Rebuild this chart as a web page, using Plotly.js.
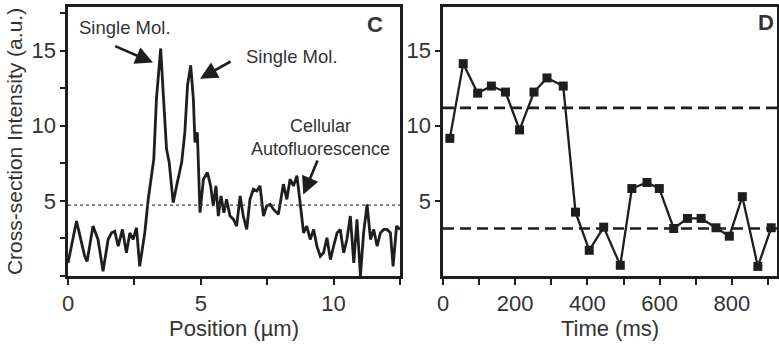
<!DOCTYPE html>
<html>
<head>
<meta charset="utf-8">
<script src="https://cdn.plot.ly/plotly-3.0.1.min.js"></script>
<style>html,body{margin:0;padding:0;background:#fff;}#chart{width:779px;height:346px;}</style>
</head>
<body>
<div id="chart"></div>
<script>
// Panel C: cross-section profile
const positionUm = [0.00,0.32,0.63,0.72,0.94,1.13,1.32,1.51,1.64,1.76,1.89,2.05,2.20,2.33,2.45,2.58,2.70,2.89,3.02,3.14,3.23,3.33,3.49,3.59,3.71,3.81,3.96,4.09,4.28,4.40,4.50,4.62,4.72,4.78,4.87,4.97,5.10,5.25,5.37,5.47,5.57,5.66,5.76,5.87,5.97,6.10,6.23,6.35,6.48,6.60,6.73,6.85,6.98,7.11,7.23,7.36,7.48,7.61,7.74,7.92,8.11,8.24,8.36,8.49,8.62,8.74,8.87,8.99,9.12,9.25,9.37,9.50,9.62,9.75,9.88,10.00,10.13,10.25,10.38,10.50,10.63,10.76,10.88,11.01,11.13,11.26,11.39,11.51,11.64,11.76,11.89,12.01,12.14,12.24,12.37,12.50];
const intensityC = [0.87,3.65,1.31,0.98,3.32,2.43,0.31,2.43,2.87,2.98,1.98,3.10,1.54,2.87,2.43,3.21,0.64,2.87,5.10,6.67,7.78,11.79,15.14,12.01,8.45,7.56,4.88,6.00,7.56,9.56,12.68,14.02,11.79,8.89,9.56,4.21,6.44,6.89,6.00,4.66,6.00,3.99,5.33,4.21,5.10,3.99,3.77,3.32,5.33,3.99,3.10,5.10,5.77,5.66,6.00,3.99,4.66,4.77,4.43,4.10,6.11,5.10,6.44,6.00,6.67,4.88,2.87,3.32,2.43,3.10,1.98,1.31,1.54,2.54,1.09,1.98,2.87,3.10,1.54,2.43,3.99,0.87,3.77,0.00,2.87,4.77,2.43,3.10,1.98,2.87,3.10,3.10,2.87,0.64,3.32,3.10];
const thresholdC = 4.72;

// Panel D: time trace
const timeMs = [19,56,96,134,173,212,252,288,333,367,405,445,491,523,565,599,639,677,715,756,793,829,872,909];
const intensityD = [9.16,14.13,12.17,12.64,12.24,9.72,12.24,13.18,12.64,4.25,1.71,3.25,0.71,5.82,6.22,5.82,3.16,3.83,3.83,3.21,2.65,5.28,0.64,3.21];
const levelsD = [11.19, 3.16];

const cTicks = [0,2.5,5,7.5,10,12.5];
const cTickText = ['0','','5','','10',''];
const cYTicks = [0,2.5,5,7.5,10,12.5,15,17.5];
const cYTickText = ['','','5','','10','','15',''];
const dTicks = [0,100,200,300,400,500,600,700,800,900];
const dTickText = ['0','','200','','400','','600','','800',''];
const dYTicks = [5,10,15];
const dYTickText = ['5','10','15'];

const ink = '#1e1e1e';
const fontFam = 'Liberation Sans, Arial, Helvetica, sans-serif';

const traces = [
  {x: positionUm, y: intensityC, type:'scatter', mode:'lines', xaxis:'x', yaxis:'y',
   line:{color:ink, width:2.8}, hoverinfo:'skip'},
  {x: timeMs, y: intensityD, type:'scatter', mode:'lines+markers', xaxis:'x2', yaxis:'y2',
   line:{color:ink, width:2.3}, marker:{symbol:'square', size:9, color:ink}, hoverinfo:'skip'}
];

const axCommon = {showgrid:false, zeroline:false, showline:true, linecolor:ink, linewidth:2.7,
  mirror:true, ticks:'outside', tickcolor:ink, tickwidth:2, tickfont:{size:22, color:'#333', family:fontFam}};

const shapes = [
  {type:'line', xref:'x domain', x0:0, x1:1, yref:'y', y0:thresholdC, y1:thresholdC,
   line:{color:'#444', width:1.3, dash:'3px,3px'}},
  ...levelsD.map(v => ({type:'line', xref:'x2 domain', x0:0, x1:1, yref:'y2', y0:v, y1:v,
   line:{color:ink, width:2.6, dash:'11px,6px'}}))
];

const txt = (s, sz) => ({size:sz, color:'#333', family:fontFam});
const annotations = [
  {xref:'x', yref:'y', x:2.14, y:16.54, text:'Single Mol.', showarrow:false, font:txt('',18.5)},
  {xref:'x', yref:'y', x:8.45, y:14.6, text:'Single Mol.', showarrow:false, font:txt('',18.5)},
  {xref:'x', yref:'y', x:9.5, y:9.22, text:'Cellular<br>Autofluorescence', showarrow:false, font:txt('',18)},
  {xref:'x', yref:'y', x:11.57, y:16.74, text:'<b>C</b>', showarrow:false, font:txt('',22)},
  {xref:'x2', yref:'y2', x:895, y:16.87, text:'<b>D</b>', showarrow:false, font:txt('',22)},
  {xref:'x', yref:'y', x:3.20, y:14.2, axref:'x', ayref:'y', ax:1.72, ay:15.34, text:'', showarrow:true,
   arrowhead:2, arrowsize:1.35, arrowwidth:2.6, arrowcolor:ink},
  {xref:'x', yref:'y', x:4.97, y:13.13, axref:'x', ayref:'y', ax:6.18, ay:14.33, text:'', showarrow:true,
   arrowhead:2, arrowsize:1.35, arrowwidth:2.6, arrowcolor:ink},
  {xref:'x', yref:'y', x:8.86, y:5.43, axref:'x', ayref:'y', ax:9.42, ay:7.78, text:'', showarrow:true,
   arrowhead:2, arrowsize:1.35, arrowwidth:2.6, arrowcolor:ink}
];

const layout = {
  width:779, height:346, paper_bgcolor:'#fff', plot_bgcolor:'#fff', showlegend:false,
  margin:{l:0, r:0, t:7, b:70},
  font:{family:fontFam, color:'#333'},
  xaxis:Object.assign({}, axCommon, {domain:[68/779, 400/779], range:[0,12.5], tickvals:cTicks, ticktext:cTickText, ticklen:6,
    title:{text:'Position (µm)', font:{size:22, color:'#333', family:fontFam}, standoff:5}}),
  yaxis:Object.assign({}, axCommon, {domain:[0,1], range:[0,17.9], tickvals:cYTicks, ticktext:cYTickText, ticklen:5,
    title:{text:'Cross-section Intensity (a.u.)', font:{size:21, color:'#333', family:fontFam}, standoff:3}}),
  xaxis2:Object.assign({}, axCommon, {domain:[443/779, 777/779], range:[0,925], tickvals:dTicks, ticktext:dTickText, ticklen:6, anchor:'y2',
    title:{text:'Time (ms)', font:{size:22, color:'#333', family:fontFam}, standoff:5}}),
  yaxis2:Object.assign({}, axCommon, {domain:[0,1], range:[0,17.9], tickvals:dYTicks, ticktext:dYTickText, ticklen:5, anchor:'x2'}),
  shapes: shapes,
  annotations: annotations
};

Plotly.newPlot('chart', traces, layout, {staticPlot:true, displayModeBar:false});
</script>
</body>
</html>
